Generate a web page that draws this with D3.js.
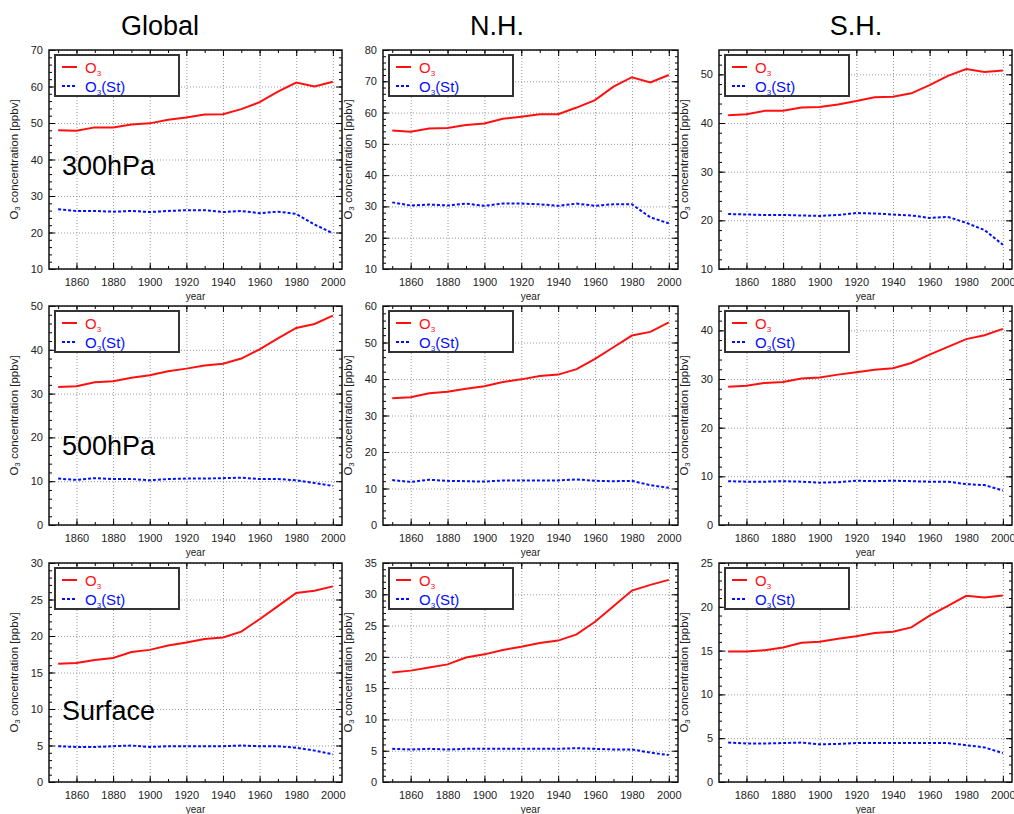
<!DOCTYPE html>
<html>
<head>
<meta charset="utf-8">
<script src="https://cdn.jsdelivr.net/npm/d3@7"></script>
<style>
body { margin: 0; background: #fff; }
svg { font-family: "Liberation Sans", Arial, sans-serif; }
.grid line { stroke: #999; stroke-dasharray: 1,2; }
.grid path, .axis path { display: none; }
.axis text { font-size: 11px; fill: #222; }
.axis line { stroke: #000; }
</style>
</head>
<body>
<svg id="chart" width="1014" height="814"></svg>
<script>
// years of the model runs
var years = [1850,1860,1870,1880,1890,1900,1910,1920,1930,1940,1950,1960,1970,1980,1990,2000];
var regions = ["Global", "N.H.", "S.H."];
var levels = ["300hPa", "500hPa", "Surface"];

// O3 total, [Global, N.H., S.H.] per level
var o3_300 = [
  [48.0,47.9,48.8,48.8,49.6,49.9,50.9,51.5,52.3,52.4,53.8,55.7,58.6,61.1,60.0,61.3],
  [54.3,53.9,54.9,55.1,56.0,56.5,58.0,58.7,59.5,59.5,61.6,64.0,68.3,71.3,69.6,72.0],
  [41.6,41.8,42.5,42.5,43.2,43.3,43.8,44.5,45.3,45.4,46.1,47.8,49.7,51.1,50.5,50.8]
];
var o3_500 = [
  [31.5,31.7,32.6,32.8,33.6,34.2,35.1,35.7,36.4,36.8,38.0,40.1,42.6,45.0,45.9,47.8],
  [34.7,35.0,36.1,36.5,37.3,38.0,39.2,39.9,40.8,41.2,42.7,45.5,48.7,51.9,52.9,55.5],
  [28.4,28.6,29.2,29.4,30.1,30.3,30.9,31.4,31.9,32.2,33.3,35.0,36.6,38.2,39.0,40.3]
];
var o3_sfc = [
  [16.2,16.3,16.7,17.0,17.8,18.1,18.7,19.1,19.6,19.8,20.6,22.3,24.1,25.9,26.2,26.8],
  [17.5,17.8,18.3,18.8,19.9,20.4,21.1,21.6,22.2,22.6,23.6,25.6,28.1,30.6,31.5,32.3],
  [14.9,14.9,15.05,15.35,15.9,16.0,16.35,16.65,17.0,17.15,17.65,19.0,20.1,21.25,21.05,21.3]
];

// O3 of stratospheric origin
var st_300 = [
  [26.4,25.9,25.9,25.7,25.9,25.6,25.9,26.1,26.1,25.6,25.9,25.3,25.7,25.1,22.2,19.8],
  [31.3,30.3,30.6,30.3,30.9,30.2,30.9,30.9,30.7,30.2,30.9,30.2,30.7,30.7,26.5,24.6],
  [21.3,21.2,21.1,21.1,21.0,20.9,21.1,21.5,21.4,21.2,21.0,20.5,20.7,19.5,18.0,15.0]
];
var st_500 = [
  [10.6,10.3,10.7,10.5,10.5,10.2,10.5,10.6,10.6,10.7,10.8,10.5,10.5,10.2,9.6,8.9],
  [12.3,11.8,12.4,12.1,12.0,11.9,12.2,12.2,12.2,12.2,12.5,12.1,12.0,12.1,10.9,10.2],
  [9.0,8.9,8.9,9.0,8.9,8.7,8.8,9.1,9.0,9.1,9.0,8.9,8.9,8.4,8.2,7.1]
];
var st_sfc = [
  [4.9,4.8,4.8,4.9,5.0,4.8,4.9,4.9,4.9,4.9,5.0,4.9,4.9,4.7,4.3,3.8],
  [5.3,5.2,5.3,5.2,5.3,5.3,5.3,5.3,5.3,5.3,5.4,5.3,5.2,5.2,4.7,4.3],
  [4.5,4.4,4.4,4.45,4.5,4.3,4.35,4.45,4.45,4.45,4.45,4.45,4.45,4.2,3.95,3.3]
];

// y ranges per level / region
var yMin = [[10,10,10],[0,0,0],[0,0,0]];
var yMax = [[70,80,55],[50,60,45],[30,35,25]];
var yStep = [10, 10, 5];
var xTicks = [1860,1880,1900,1920,1940,1960,1980,2000];

var o3 = [o3_300, o3_500, o3_sfc];
var st = [st_300, st_500, st_sfc];

var colLeft = [49, 383, 719];
var colW = [293, 295, 293];
var rowTop = [50, 306, 563];
var h = 219;
var titleX = [160, 497, 856];
var levelY = [125, 149, 157];

var svg = d3.select("#chart");

for (var c = 0; c < 3; c++) {
  svg.append("text")
    .attr("x", titleX[c]).attr("y", 35)
    .attr("text-anchor", "middle")
    .style("font-size", "27px")
    .text(regions[c]);
}

// text with a subscript 3 after the O
function o3text(t, sub, rest, shift) {
  t.append("tspan").text("O");
  t.append("tspan").attr("dy", shift).style("font-size", sub).text("3");
  if (rest) t.append("tspan").attr("dy", -shift).text(rest);
}

function ylabel(g, x, y) {
  var t = g.append("text")
    .attr("transform", "translate(" + x + "," + y + ") rotate(-90)")
    .attr("text-anchor", "middle")
    .style("font-size", "11.5px")
    .style("fill", "#222");
  o3text(t, "8px", " concentration [ppbv]", 2);
}

function drawPanel(r, c) {
  var w = colW[c];
  var g = svg.append("g")
    .attr("transform", "translate(" + colLeft[c] + "," + rowTop[r] + ")");

  var x = d3.scaleLinear().domain([1845, 2005]).range([0, w]);
  var y = d3.scaleLinear().domain([yMin[r][c], yMax[r][c]]).range([h, 0]);

  var yTicks = d3.range(yMin[r][c], yMax[r][c] + 0.01, yStep[r]);
  var yMinor = d3.range(yMin[r][c], yMax[r][c] + 0.01, yStep[r] / 5);
  var xMinor = d3.range(1850, 2001, 10);

  // grid
  g.append("g").attr("class", "grid")
    .call(d3.axisLeft(y).tickValues(yTicks).tickSize(-w).tickFormat(""));
  g.append("g").attr("class", "grid")
    .attr("transform", "translate(0," + h + ")")
    .call(d3.axisBottom(x).tickValues(xTicks).tickSize(-h).tickFormat(""));

  // minor ticks, all four sides
  g.append("g").attr("class", "axis")
    .call(d3.axisLeft(y).tickValues(yMinor).tickSize(-3).tickFormat(""));
  g.append("g").attr("class", "axis")
    .attr("transform", "translate(" + w + ",0)")
    .call(d3.axisRight(y).tickValues(yMinor).tickSize(-3).tickFormat(""));
  g.append("g").attr("class", "axis")
    .attr("transform", "translate(0," + h + ")")
    .call(d3.axisBottom(x).tickValues(xMinor).tickSize(-3).tickFormat(""));
  g.append("g").attr("class", "axis")
    .call(d3.axisTop(x).tickValues(xMinor).tickSize(-3).tickFormat(""));

  // major ticks with labels
  g.append("g").attr("class", "axis")
    .call(d3.axisLeft(y).tickValues(yTicks).tickSize(-6).tickPadding(6));
  g.append("g").attr("class", "axis")
    .attr("transform", "translate(" + w + ",0)")
    .call(d3.axisRight(y).tickValues(yTicks).tickSize(-6).tickFormat(""));
  g.append("g").attr("class", "axis")
    .attr("transform", "translate(0," + h + ")")
    .call(d3.axisBottom(x).tickValues(xTicks).tickSize(-6).tickPadding(9).tickFormat(d3.format("d")));
  g.append("g").attr("class", "axis")
    .call(d3.axisTop(x).tickValues(xTicks).tickSize(-6).tickFormat(""));

  var line = d3.line()
    .x(function(d, i) { return x(years[i]); })
    .y(function(d) { return y(d); });

  g.append("path")
    .datum(st[r][c])
    .attr("d", line)
    .attr("fill", "none")
    .attr("stroke", "#0010ff")
    .attr("stroke-width", 2)
    .attr("stroke-dasharray", "3,2");

  g.append("path")
    .datum(o3[r][c])
    .attr("d", line)
    .attr("fill", "none")
    .attr("stroke", "#ff1010")
    .attr("stroke-width", 2);

  // frame
  g.append("rect")
    .attr("width", w).attr("height", h)
    .attr("fill", "none")
    .attr("stroke", "#111")
    .attr("stroke-width", 1.5);

  // legend
  var lg = g.append("g").attr("transform", "translate(6,5)");
  lg.append("rect")
    .attr("width", 124).attr("height", 41)
    .attr("fill", "#fff")
    .attr("stroke", "#333")
    .attr("stroke-width", 2);
  lg.append("line").attr("x1", 7).attr("x2", 22).attr("y1", 12).attr("y2", 12)
    .attr("stroke", "#ff1010").attr("stroke-width", 2);
  lg.append("line").attr("x1", 7).attr("x2", 22).attr("y1", 31).attr("y2", 31)
    .attr("stroke", "#0010ff").attr("stroke-width", 2).attr("stroke-dasharray", "3,2");
  o3text(lg.append("text").attr("x", 30).attr("y", 17.5)
    .style("font-size", "15px").style("fill", "#ff1010"), "8px", null, 3);
  o3text(lg.append("text").attr("x", 30).attr("y", 36.5)
    .style("font-size", "15px").style("fill", "#0010ff"), "8px", "(St)", 3);

  // axis titles
  ylabel(g, -31, h / 2);
  g.append("text")
    .attr("x", w / 2).attr("y", h + 31)
    .attr("text-anchor", "middle")
    .style("font-size", "10px")
    .style("fill", "#222")
    .text("year");

  if (c == 0) {
    g.append("text")
      .attr("x", 13).attr("y", levelY[r])
      .style("font-size", "27px")
      .text(levels[r]);
  }
}

for (var r = 0; r < 3; r++) {
  for (var c = 0; c < 3; c++) {
    drawPanel(r, c);
  }
}
</script>
</body>
</html>
